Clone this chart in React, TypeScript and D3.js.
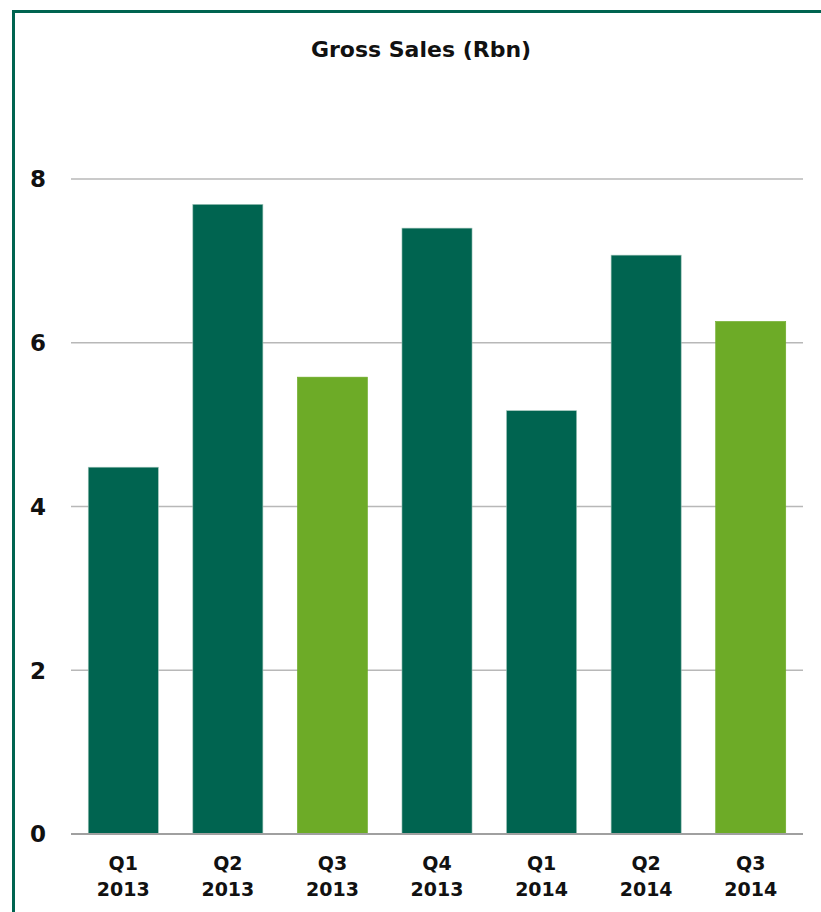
import React from "react";
import * as d3 from "d3";

const quarters = ["Q1", "Q2", "Q3", "Q4", "Q1", "Q2", "Q3"];
const years = ["2013", "2013", "2013", "2013", "2014", "2014", "2014"];
const values = [4.48, 7.69, 5.58, 7.4, 5.17, 7.07, 6.26];
const highlight = [false, false, true, false, false, false, true];
const yTicks = [0, 2, 4, 6, 8];
const title = "Gross Sales (Rbn)";

const W = 821;
const H = 912;
const DARK = "#006450";
const LIGHT = "#6DAB27";
const FONT = "'DejaVu Sans', Lato, sans-serif";

export default function App() {
  const left = 71;
  const right = 803;
  const top = 179;
  const bottom = 834;
  const keys = values.map((_, i) => String(i));
  const x = d3.scaleBand<string>().domain(keys).range([left, right]).paddingInner(0.33).paddingOuter(0.165);
  const y = d3.scaleLinear().domain([0, 8]).range([bottom, top]);

  return (
    <svg width={W} height={H} style={{ position: "absolute", left: 0, top: 0, background: "#fff" }}>
      <line x1={13.5} y1={10} x2={13.5} y2={H} stroke={DARK} strokeWidth={3} />
      <line x1={12} y1={11.5} x2={W} y2={11.5} stroke={DARK} strokeWidth={3} />
      <text x={421} y={57} textAnchor="middle" fontFamily={FONT} fontWeight="bold" fontSize={22} fill="#111">
        {title}
      </text>
      {yTicks.filter((t) => t > 0).map((t) => (
        <line key={t} x1={left} x2={right} y1={y(t)} y2={y(t)} stroke="#b8b8b8" strokeWidth={1.5} />
      ))}
      {yTicks.map((t) => (
        <text key={"l" + t} x={38} y={y(t)} dy="0.36em" textAnchor="middle" fontFamily={FONT} fontWeight="bold" fontSize={23} fill="#111">
          {t}
        </text>
      ))}
      {values.map((v, i) => (
        <rect
          key={i}
          x={x(String(i))}
          y={y(v)}
          width={x.bandwidth()}
          height={y(0) - y(v)}
          fill={highlight[i] ? LIGHT : DARK}
          stroke={highlight[i] ? LIGHT : "#9cc2b6"}
          strokeWidth={0.6}
        />
      ))}
      <line x1={left} x2={right} y1={bottom} y2={bottom} stroke="#a0a0a0" strokeWidth={2} />
      {values.map((_, i) => {
        const cx = (x(String(i)) as number) + x.bandwidth() / 2;
        return (
          <g key={"x" + i}>
            <text x={cx} y={870} textAnchor="middle" fontFamily={FONT} fontWeight="bold" fontSize={19} fill="#111">
              {quarters[i]}
            </text>
            <text x={cx} y={896} textAnchor="middle" fontFamily={FONT} fontWeight="bold" fontSize={19} fill="#111">
              {years[i]}
            </text>
          </g>
        );
      })}
    </svg>
  );
}
